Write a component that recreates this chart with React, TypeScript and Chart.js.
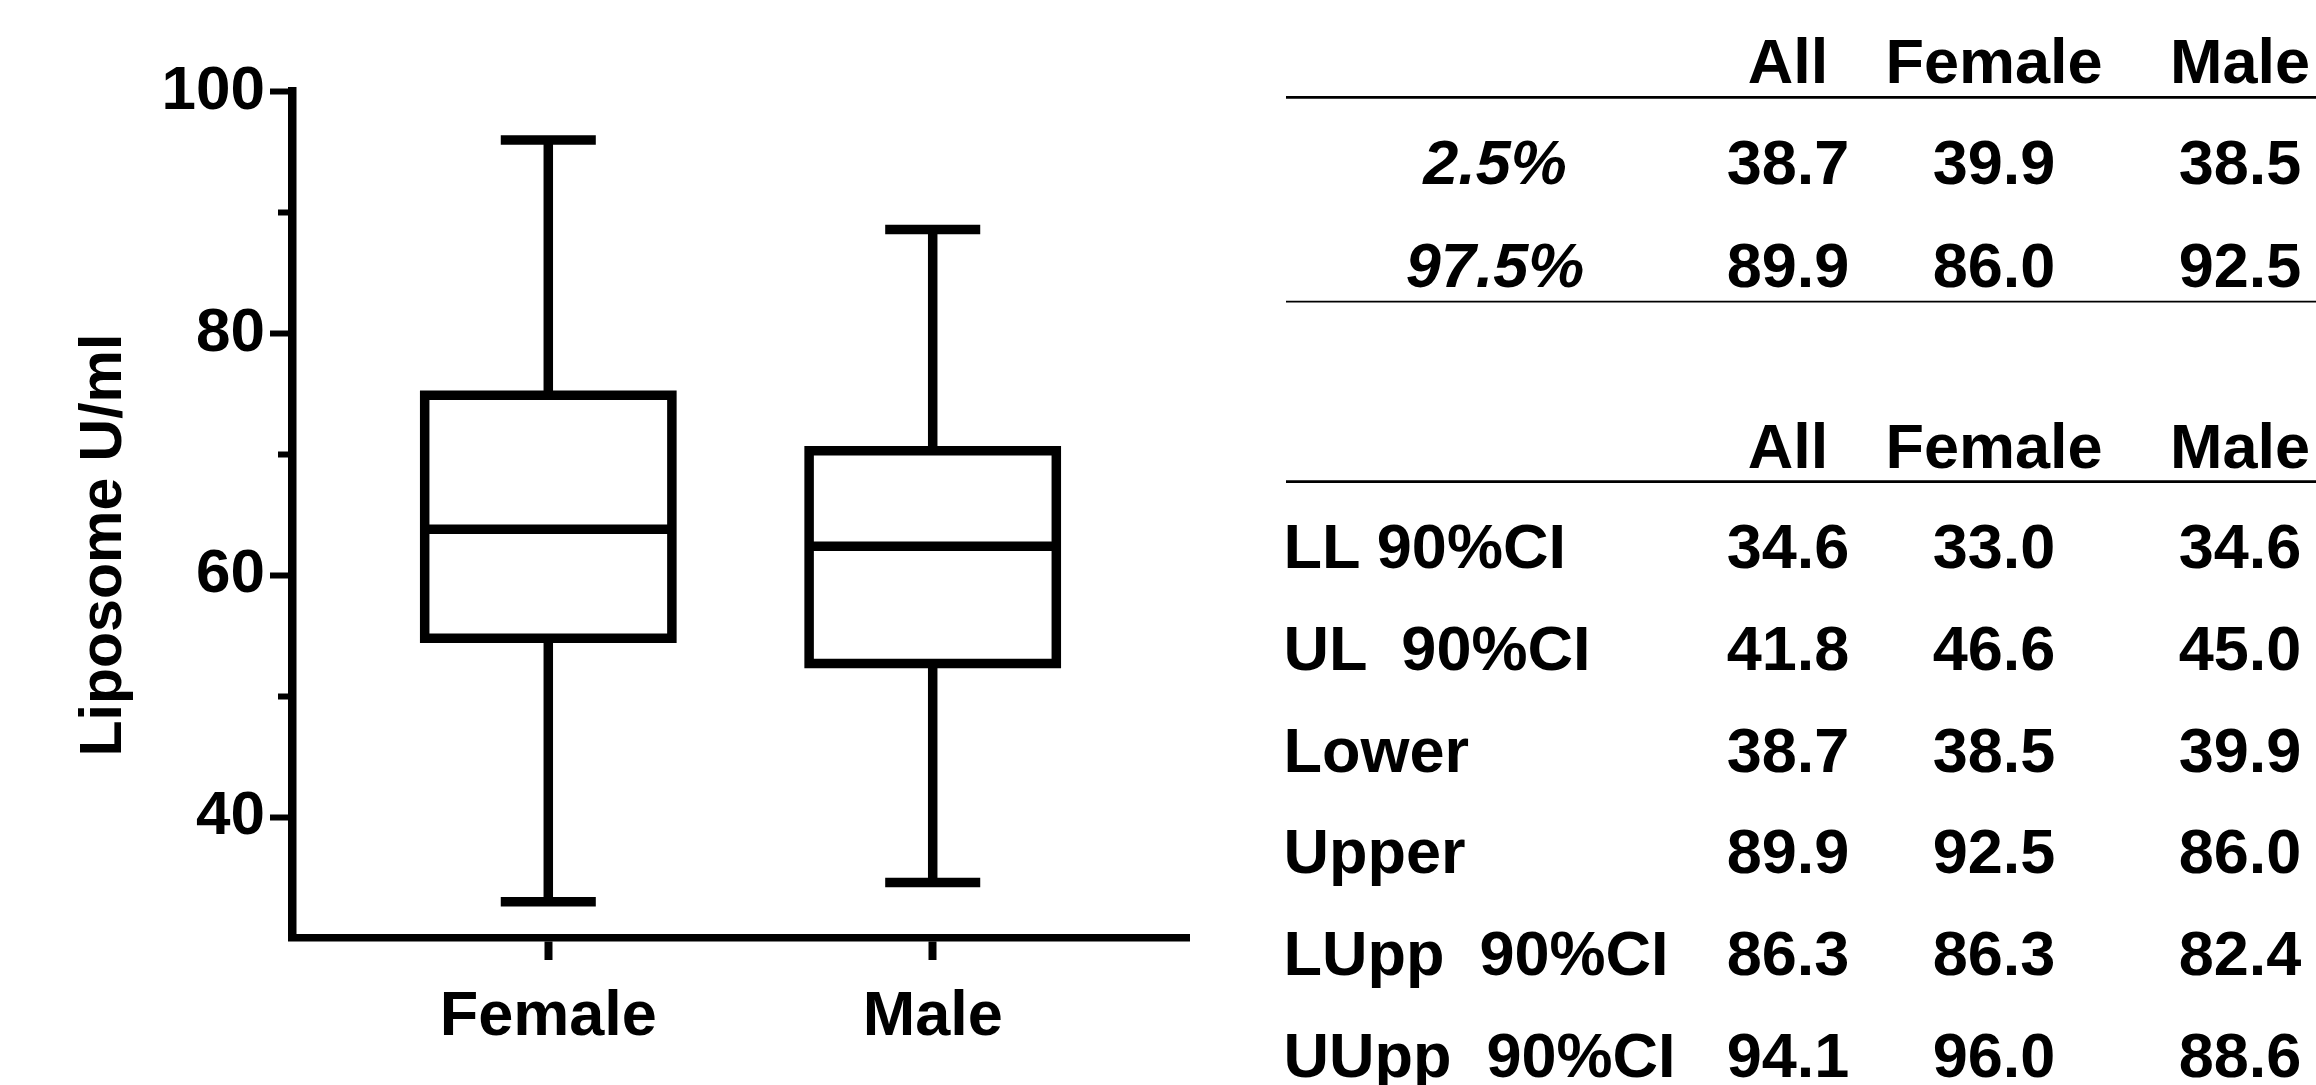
import React, { useEffect, useRef } from 'react';
import { Chart, registerables } from 'chart.js';

Chart.register(...registerables);

// ---------- Box-plot data ----------
const CATEGORIES = ['Female', 'Male'];
const WHISKER_LOW = [33.0, 34.6];
const Q1 = [54.8, 52.7];
const MEDIAN = [63.8, 62.4];
const Q3 = [74.9, 70.3];
const WHISKER_HIGH = [96.0, 88.6];

// ---------- Axis ----------
const Y_MIN = 30;
const Y_MAX = 100;
const Y_MAJOR_TICKS = [40, 60, 80, 100];
const Y_MINOR_TICKS = [50, 70, 90];
const Y_TITLE = 'Liposome U/ml';

// ---------- Table data ----------
const TABLE_COLUMNS = ['All', 'Female', 'Male'];
const PCT_LABELS = ['2.5%', '97.5%'];
const PCT_ALL = ['38.7', '89.9'];
const PCT_FEMALE = ['39.9', '86.0'];
const PCT_MALE = ['38.5', '92.5'];
const CI_LABELS = ['LL 90%CI', 'UL  90%CI', 'Lower', 'Upper', 'LUpp  90%CI', 'UUpp  90%CI'];
const CI_ALL = ['34.6', '41.8', '38.7', '89.9', '86.3', '94.1'];
const CI_FEMALE = ['33.0', '46.6', '38.5', '92.5', '86.3', '96.0'];
const CI_MALE = ['34.6', '45.0', '39.9', '86.0', '82.4', '88.6'];

// ---------- Style constants ----------
const FONT = "'Liberation Sans', Arial, Helvetica, sans-serif";
const LINE_W = 9.5;
const BOX_HALF = 0.3215; // x-units
const CAP_HALF = 0.1236; // x-units
const X_MIN = 1 / 3;
const X_MAX = 8 / 3;

function seg(points: { x: number; y: number }[]) {
  return {
    data: points,
    showLine: true,
    borderColor: '#000',
    backgroundColor: '#000',
    borderWidth: LINE_W,
    pointRadius: 0,
    pointHoverRadius: 0,
    fill: false,
    tension: 0,
    borderJoinStyle: 'miter' as const,
    borderCapStyle: 'butt' as const,
  };
}

function buildDatasets() {
  const ds: any[] = [];
  CATEGORIES.forEach((_, i) => {
    const x = i + 1;
    ds.push(seg([{ x, y: Q3[i] }, { x, y: WHISKER_HIGH[i] }]));
    ds.push(seg([{ x, y: Q1[i] }, { x, y: WHISKER_LOW[i] }]));
    ds.push(seg([{ x: x - CAP_HALF, y: WHISKER_HIGH[i] }, { x: x + CAP_HALF, y: WHISKER_HIGH[i] }]));
    ds.push(seg([{ x: x - CAP_HALF, y: WHISKER_LOW[i] }, { x: x + CAP_HALF, y: WHISKER_LOW[i] }]));
    ds.push(
      seg([
        { x: x - BOX_HALF, y: Q1[i] },
        { x: x - BOX_HALF, y: Q3[i] },
        { x: x + BOX_HALF, y: Q3[i] },
        { x: x + BOX_HALF, y: Q1[i] },
        { x: x - BOX_HALF, y: Q1[i] },
        { x: x - BOX_HALF, y: Q3[i] },
      ])
    );
    ds.push(seg([{ x: x - BOX_HALF, y: MEDIAN[i] }, { x: x + BOX_HALF, y: MEDIAN[i] }]));
  });
  return ds;
}

function BoxChart() {
  const ref = useRef<HTMLCanvasElement | null>(null);
  useEffect(() => {
    if (!ref.current) return;
    const chart = new Chart(ref.current, {
      type: 'scatter',
      data: { datasets: buildDatasets() },
      options: {
        responsive: false,
        maintainAspectRatio: false,
        animation: false,
        devicePixelRatio: 1,
        layout: { padding: { top: 91.7, right: 11, left: 0, bottom: 0 } },
        plugins: { legend: { display: false }, tooltip: { enabled: false }, title: { display: false } },
        scales: {
          x: {
            type: 'linear',
            position: 'bottom',
            min: X_MIN,
            max: X_MAX,
            afterBuildTicks: (s: any) => {
              s.ticks = CATEGORIES.map((_, i) => ({ value: i + 1 }));
            },
            afterFit: (s: any) => {
              s.height = 147;
            },
            ticks: {
              autoSkip: false,
              maxRotation: 0,
              padding: 20,
              color: '#000',
              font: { family: FONT, size: 63, weight: 'bold' },
              callback: (v: any) => CATEGORIES[Number(v) - 1] ?? '',
            },
            grid: { drawOnChartArea: false, drawTicks: true, tickLength: 22, tickWidth: 8, tickColor: '#000' },
            border: { display: true, color: '#000', width: 7.5 },
          },
          y: {
            type: 'linear',
            position: 'left',
            weight: 1,
            min: Y_MIN,
            max: Y_MAX,
            afterBuildTicks: (s: any) => {
              s.ticks = Y_MAJOR_TICKS.map((v) => ({ value: v }));
            },
            afterFit: (s: any) => {
              s.width = 292;
            },
            ticks: {
              padding: 5,
              color: '#000',
              font: { family: FONT, size: 62, weight: 'bold' },
              callback: (v: any) => String(v),
            },
            grid: { drawOnChartArea: false, drawTicks: true, tickLength: 22, tickWidth: 6, tickColor: '#000' },
            border: { display: true, color: '#000', width: 8.5 },
          },
          yMinor: {
            type: 'linear',
            position: 'left',
            weight: 0,
            min: Y_MIN,
            max: Y_MAX,
            afterBuildTicks: (s: any) => {
              s.ticks = Y_MINOR_TICKS.map((v) => ({ value: v }));
            },
            afterFit: (s: any) => {
              s.width = 0;
            },
            ticks: { display: false },
            grid: { drawOnChartArea: false, drawTicks: true, tickLength: 14, tickWidth: 6, tickColor: '#000' },
            border: { display: false },
          },
        },
      } as any,
    });
    return () => chart.destroy();
  }, []);
  return (
    <canvas
      ref={ref}
      width={1200}
      height={1085}
      style={{ position: 'fixed', left: 0, top: 0, width: 1200, height: 1085 }}
    />
  );
}

function Overlay() {
  const colX = [1788, 1994, 2240];
  const ruleX1 = 1286;
  const ruleX2 = 2316;
  const pctRowsY = [184, 287];
  const ciRowY0 = 568.3;
  const ciRowStep = 101.7;
  const pctCols = [PCT_ALL, PCT_FEMALE, PCT_MALE];
  const ciCols = [CI_ALL, CI_FEMALE, CI_MALE];
  return (
    <svg
      width={2316}
      height={1085}
      style={{ position: 'fixed', left: 0, top: 0, pointerEvents: 'none' }}
      fontFamily={FONT}
      fontWeight="bold"
      fontSize={63}
      fill="#000"
    >
      {/* y-axis title */}
      <text transform="translate(121,545) rotate(-90)" textAnchor="middle" fontSize={59}>
        {Y_TITLE}
      </text>

      {/* upper table */}
      {TABLE_COLUMNS.map((c, j) => (
        <text key={'h1' + c} x={colX[j]} y={83} textAnchor="middle">
          {c}
        </text>
      ))}
      <line x1={ruleX1} x2={ruleX2} y1={97.3} y2={97.3} stroke="#000" strokeWidth={2.7} />
      {PCT_LABELS.map((lab, r) => (
        <g key={'p' + r}>
          <text x={1495} y={pctRowsY[r]} textAnchor="middle" fontStyle="italic">
            {lab}
          </text>
          {pctCols.map((col, j) => (
            <text key={j} x={colX[j]} y={pctRowsY[r]} textAnchor="middle">
              {col[r]}
            </text>
          ))}
        </g>
      ))}
      <line x1={ruleX1} x2={ruleX2} y1={301.7} y2={301.7} stroke="#000" strokeWidth={1.8} />

      {/* lower table */}
      {TABLE_COLUMNS.map((c, j) => (
        <text key={'h2' + c} x={colX[j]} y={468} textAnchor="middle">
          {c}
        </text>
      ))}
      <line x1={ruleX1} x2={ruleX2} y1={481.7} y2={481.7} stroke="#000" strokeWidth={2.7} />
      {CI_LABELS.map((lab, r) => (
        <g key={'c' + r}>
          <text x={1283.5} y={ciRowY0 + r * ciRowStep} style={{ whiteSpace: 'pre' }}>
            {lab}
          </text>
          {ciCols.map((col, j) => (
            <text key={j} x={colX[j]} y={ciRowY0 + r * ciRowStep} textAnchor="middle">
              {col[r]}
            </text>
          ))}
        </g>
      ))}
    </svg>
  );
}

export default function App() {
  return (
    <div>
      <BoxChart />
      <Overlay />
    </div>
  );
}
